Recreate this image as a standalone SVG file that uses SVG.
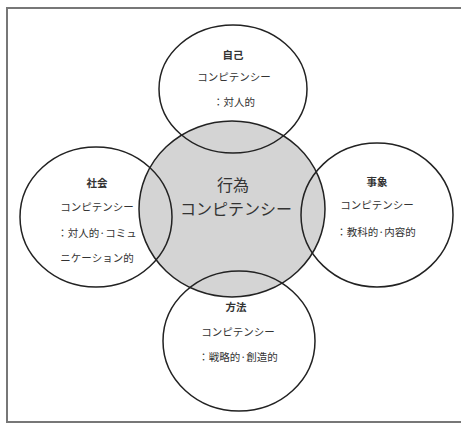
<svg xmlns="http://www.w3.org/2000/svg" width="461" height="423" viewBox="0 0 461 423">
<style>
.c{fill:none;stroke:#222;stroke-width:1.5}
.t{font-family:"Noto Sans CJK JP","Noto Sans CJK SC",sans-serif;font-size:10.5px;fill:#333;text-anchor:middle}
.h{font-weight:bold}
.m{font-family:"Noto Sans CJK JP","Noto Sans CJK SC",sans-serif;font-size:16px;fill:#333;text-anchor:middle}
</style>
<rect x="0" y="0" width="461" height="423" fill="#fff"/>
<rect x="7" y="8" width="460" height="414" fill="none" stroke="#777" stroke-width="2"/>
<g id="center">
<ellipse cx="232" cy="209" rx="93" ry="88" fill="#d4d4d4" stroke="#222" stroke-width="1.5"/>
<text class="m" x="233" y="191">行為</text>
<text class="m" x="236" y="215">コンピテンシー</text>
</g>
<g id="top">
<ellipse class="c" cx="233" cy="89" rx="74" ry="64"/>
<text class="t h" x="233" y="59">自己</text>
<text class="t" x="234" y="81">コンピテンシー</text>
<text class="t" x="234" y="106">：対人的</text>
</g>
<g id="left">
<ellipse class="c" cx="96" cy="217" rx="76" ry="70"/>
<text class="t h" x="97" y="187">社会</text>
<text class="t" x="97" y="211">コンピテンシー</text>
<text class="t" x="97" y="237">：対人的·コミュ</text>
<text class="t" x="97" y="262">ニケーション的</text>
</g>
<g id="right">
<ellipse class="c" cx="377" cy="215" rx="76" ry="72"/>
<text class="t h" x="377" y="186">事象</text>
<text class="t" x="377" y="209">コンピテンシー</text>
<text class="t" x="376" y="236">：教科的·内容的</text>
</g>
<g id="bottom">
<ellipse class="c" cx="239" cy="341" rx="76" ry="70"/>
<text class="t h" x="236" y="311">方法</text>
<text class="t" x="238" y="336">コンピテンシー</text>
<text class="t" x="238" y="361">：戦略的·創造的</text>
</g>
</svg>
